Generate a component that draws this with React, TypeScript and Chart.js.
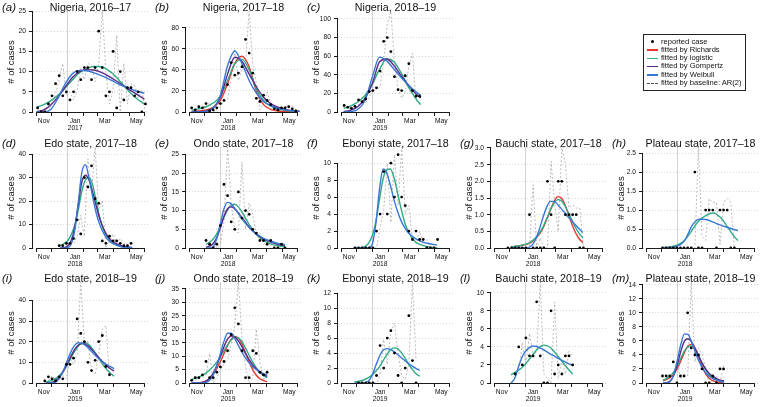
import React, { useEffect, useRef } from 'react';
import { Chart, registerables } from 'chart.js';

Chart.register(...registerables);

const FONT = '"Liberation Sans", Arial, Helvetica, sans-serif';

// x axis: days relative to 1 January of each season
const MONTH_STARTS = [-61, -31, 0, 31, 59, 90, 120, 151];
const MONTH_LABEL_DAYS = [-46, 15, 73, 134];
const MONTH_LABELS = ['Nov', 'Jan', 'Mar', 'May'];
const X_MIN = -67;
const X_MAX = 157;

const C_RICH = '#E5392F';
const C_LOGI = '#2FAA84';
const C_GOMP = '#5B2A86';
const C_WEIB = '#3777D6';
const C_AR = '#A9A9A9';

const LEGEND_LABELS = ['reported case', 'fitted by Richards', 'fitted by logistic', 'fitted by Gompertz', 'fitted by Weibull', 'fitted by baseline: AR(2)'];

// (a) Nigeria 2016-17
const aYTicks = [0, 5, 10, 15, 20, 25];
const aCases = [1, 0, 0, 2, 4, 7, 9, 4, 5, 3, 5, 10, 8, 11, 11, 8, 11, 20, 11, 4, 5, 15, 1, 10, 3, 6, 6, 4, 5, 0, 2];
const aAR = [null, null, 0.5, 0, 2.5, 4.5, 8, 12, 4, 5, 3, 5.5, 11, 8, 12, 11.5, 7.5, 12, 25, 10, 2, 5.5, 19, 0, 12, 2, 7, 6.5, 3.5, 5.5, 0];
const aCurveDays = [-60, -46, -32, -18, -4, 10, 24, 38, 52, 66, 80, 94, 108, 122, 136, 150];
const aLogistic = [1.2, 1.8, 2.8, 4.2, 6, 8, 9.8, 10.8, 11.3, 11.2, 10.3, 8.8, 6.8, 4.8, 3.2, 2.0];
const aGompertz = [0.1, 0.5, 1.8, 3.8, 6.2, 8.6, 10, 10.5, 10.4, 9.8, 8.9, 7.8, 6.6, 5.4, 4.3, 3.2];
const aWeibull = [0, 0, 0.7, 3.5, 7, 9.5, 10.3, 10.2, 9.7, 9, 8.2, 7.3, 6.5, 5.8, 5.1, 4.6];

// (b) Nigeria 2017-18
const bYTicks = [0, 20, 40, 60, 80];
const bCases = [4, 2, 5, 4, 8, 1, 2, 4, 8, 11, 26, 47, 35, 37, 43, 69, 56, 37, 13, 10, 16, 11, 7, 3, 2, 4, 4, 5, 3, 1];
const bAR = [null, null, 3, 5, 4, 9, 0, 2, 5, 10, 12, 32, 60, 30, 40, 48, 96, 45, 27, 2, 8, 19, 8, 5, 1, 1, 5, 4, 6, 2];
const bCurveDays = [-56, -42, -28, -14, 0, 14, 28, 42, 56, 70, 84, 98, 112, 126, 140, 154];
const bRichards = [0.5, 1, 2, 4.5, 11, 27, 46, 53, 43, 20, 7, 2.5, 1, 0.5, 0.2, 0];
const bLogistic = [2, 3, 5, 8.5, 15, 30, 46, 50, 40, 22, 11, 5.5, 3, 1.5, 0.8, 0.4];
const bGompertz = [0, 0.2, 1, 4, 14, 36, 52, 48, 36, 24, 14, 8, 4.5, 2.5, 1.3, 0.7];
const bWeibull = [0, 0, 0.5, 3.5, 16, 44, 58, 46, 30, 18, 10, 6, 3.5, 2, 1.2, 0.7];

// (c) Nigeria 2018-19
const cYTicks = [0, 20, 40, 60, 80, 100];
const cCases = [7, 5, 4, 6, 13, 11, 14, 22, 23, 26, 44, 76, 80, 65, 38, 24, 23, 39, 52, 23, 17, 17];
const cAR = [null, null, 5, 4, 7, 16, 10, 16, 27, 24, 27, 55, 95, 108, 55, 25, 15, 22, 50, 63, 12, 10];
const cCurveDays = [-56, -42, -28, -14, 0, 14, 28, 42, 56, 70, 84, 94];
const cLogistic = [4, 6.5, 11, 18, 30, 46, 57, 54, 42, 27, 15, 8];
const cGompertz = [0.5, 2, 6, 15, 31, 54, 57, 50, 39, 29, 20, 15];
const cWeibull = [0, 0.5, 3, 13, 38, 59, 55, 46, 37, 29, 22, 18];

// (d) Edo state 2017-18
const dYTicks = [0, 10, 20, 30, 40];
const dCases = [1, 1, 2, 2, 4, 12, 6, 30, 26, 35, 21, 19, 3, 2, 5, 3, 3, 2, 1, 1, 2];
const dAR = [null, null, 1.5, 2.5, 2, 5, 14, 5, 38, 24, 43, 16, 20, 0, 3, 6, 2, 4, 2, 1, 1];
const dCurveDays = [-14, -7, 0, 7, 14, 21, 28, 35, 42, 49, 56, 63, 70, 77, 84, 98, 112, 126];
const dLogistic = [1, 1.8, 3, 5.5, 9.5, 16, 24, 29, 30, 27, 20, 13, 8, 4.8, 2.8, 1, 0.3, 0.1];
const dGompertz = [0, 0.1, 0.8, 3, 8.5, 18, 28, 31, 29, 24, 18, 12.5, 8.5, 5.5, 3.5, 1.5, 0.6, 0.2];
const dWeibull = [0, 0, 0.2, 1.5, 7, 19, 32, 35.5, 30, 22, 15, 10, 6.5, 4, 2.5, 1, 0.3, 0.1];

// (e) Ondo state 2017-18
const eYTicks = [0, 5, 10, 15, 20, 25];
const eCases = [2, 1, 0, 1, 6, 17, 14, 7, 5, 15, 8, 10, 9, 5, 4, 2, 2, 1, 2, 0, 0, 1, 0];
const eAR = [null, 2, 1, 0, 1, 7, 27, 12, 5, 4, 23, 5, 12, 9, 4, 4, 1, 2, 0.5, 2, 0, 0, 1];
const eCurveDays = [-28, -21, -14, -7, 0, 7, 14, 21, 28, 35, 42, 56, 70, 84, 98, 112, 126];
const eLogistic = [1, 1.5, 2.4, 3.8, 5.8, 8.2, 10.2, 11.5, 11.7, 11, 9.6, 6.3, 3.6, 2, 1.1, 0.6, 0.3];
const eGompertz = [0.2, 0.5, 1.2, 2.8, 5.5, 8.5, 10.5, 11, 10.5, 9.4, 8.1, 5.6, 3.7, 2.4, 1.6, 1, 0.7];
const eWeibull = [0, 0, 0.3, 2.5, 6.5, 10.5, 12.2, 11.8, 10.6, 9.2, 7.8, 5.5, 3.8, 2.6, 1.8, 1.2, 0.9];

// (f) Ebonyi state 2017-18
const fYTicks = [0, 2, 4, 6, 8, 10];
const fCases = [0, 0, 0, 0, 0, 0, 2, 4, 9, 4, 10, 6, 11, 6, 5, 2, 1, 2, 1, 1, 0, 0, 0, 1];
const fAR = [null, 0, 0, 0, 0, 0, 0, 2.5, 4.5, 10, 3, 11, 5, 11.9, 4, 5, 1, 0.5, 2, 0.5, 1, 0, 0, 0];
const fCurveDays = [-35, -21, -14, -7, 0, 7, 14, 21, 28, 35, 42, 49, 56, 63, 70, 84, 98, 112, 126];
const fLogistic = [0, 0.05, 0.2, 0.6, 1.5, 3.2, 5.8, 8.2, 9.2, 9.3, 8.3, 6.5, 4.6, 3, 1.9, 0.7, 0.3, 0.1, 0.05];
const fWeibull = [0, 0, 0, 0.05, 0.5, 3, 7, 9.3, 8.8, 7.4, 5.7, 4.3, 3.2, 2.4, 1.8, 1.1, 0.7, 0.5, 0.35];

// (g) Bauchi state 2017-18
const gYTicks = [0, 0.5, 1, 1.5, 2, 2.5, 3];
const gCases = [0, 0, 0, 0, 0, 0, 1, 0, 0, 0, 0, 2, 1, 0, 2, 2, 1, 1, 1, 1, 0, 0];
const gAR = [null, 0, 0, 0, 0, 0, 0, 1.9, 0, 0.3, 0, 0, 2.6, 1.3, 0.5, 3.0, 2.5, 1.2, 1.3, 1.2, 1.2, 0];
const gCurveDays = [-28, -14, 0, 7, 14, 21, 28, 35, 42, 49, 56, 63, 70, 77, 84, 91, 98, 105, 112];
const gRichards = [0.03, 0.06, 0.1, 0.14, 0.2, 0.3, 0.43, 0.62, 0.88, 1.15, 1.4, 1.54, 1.5, 1.3, 1.0, 0.7, 0.45, 0.27, 0.16];
const gLogistic = [0.03, 0.06, 0.11, 0.15, 0.22, 0.32, 0.46, 0.65, 0.9, 1.15, 1.35, 1.45, 1.42, 1.27, 1.05, 0.82, 0.6, 0.43, 0.3];
const gWeibull = [0, 0, 0, 0.02, 0.1, 0.3, 0.6, 0.95, 1.25, 1.4, 1.4, 1.3, 1.18, 1.05, 0.92, 0.8, 0.68, 0.57, 0.47];

// (h) Plateau state 2017-18
const hYTicks = [0, 0.5, 1, 1.5, 2, 2.5];
const hCases = [0, 0, 0, 0, 0, 0, 0, 0, 0, 2, 0, 0, 1, 1, 1, 0, 1, 1, 1, 0, 0];
const hAR = [null, 0, 0, 0, 0, 0, 0, 0, 0, 0, 2.66, 0.3, 0.2, 1.3, 1.2, 1.2, 0.1, 1.2, 1.3, 1.2, 0];
const hCurveDays = [-28, -14, 0, 7, 14, 21, 28, 35, 42, 56, 70, 84, 98, 112, 118];
const hLogistic = [0.01, 0.03, 0.08, 0.13, 0.2, 0.32, 0.46, 0.6, 0.72, 0.86, 0.92, 0.8, 0.55, 0.28, 0.2];
const hWeibull = [0, 0.01, 0.05, 0.1, 0.2, 0.38, 0.58, 0.7, 0.76, 0.75, 0.68, 0.6, 0.54, 0.48, 0.46];

// (i) Edo state 2018-19
const iYTicks = [0, 10, 20, 30, 40];
const iCases = [1, 3, 2, 1, 3, 2, 9, 9, 12, 31, 24, 20, 10, 6, 11, 20, 23, 8, 4];
const iAR = [null, 1, 3.5, 1.5, 1.5, 3.5, 2, 12, 9, 14, 48.9, 20, 20, 6, 4, 14, 26, 28, 4];
const iCurveDays = [-42, -35, -28, -21, -14, -7, 0, 7, 14, 21, 28, 35, 42, 49, 56, 63, 70, 77, 84, 91];
const iLogistic = [0.5, 0.9, 1.5, 2.5, 4, 6.2, 9, 12.2, 15.3, 17.8, 19.2, 19.5, 18.5, 16.5, 14, 11.2, 8.6, 6.4, 4.6, 3.3];
const iGompertz = [0, 0.1, 0.5, 1.5, 3.3, 6, 9.5, 13, 16.2, 18.3, 19.1, 18.8, 17.6, 15.8, 13.8, 11.8, 9.9, 8.3, 6.9, 5.8];
const iWeibull = [0, 0, 0.1, 0.8, 3, 6.5, 11, 15.2, 18.2, 19.5, 19.3, 18.2, 16.6, 14.8, 13, 11.4, 10, 8.8, 7.9, 7];

// (j) Ondo state 2018-19
const jYTicks = [0, 5, 10, 15, 20, 25, 30, 35];
const jCases = [1, 2, 2, 3, 8, 2, 2, 4, 6, 8, 12, 18, 28, 22, 12, 2, 2, 12, 11, 4, 3, 4];
const jAR = [null, 1, 2, 2, 3, 11, 0, 2, 5, 7, 9, 14, 21, 37.6, 17, 6, 0, 2, 20, 8, 1, 3];
const jCurveDays = [-56, -49, -42, -35, -28, -21, -14, -7, 0, 7, 14, 21, 28, 35, 42, 49, 56, 63, 70, 77, 84, 91];
const jRichards = [0, 0, 0.1, 0.3, 0.8, 1.7, 3.2, 5.3, 8, 11, 14, 16.3, 17.3, 16.7, 14.5, 11.2, 7.8, 4.9, 2.9, 1.6, 0.9, 0.5];
const jLogistic = [1.3, 1.7, 2.2, 2.9, 3.7, 4.8, 6.2, 7.8, 9.8, 12, 14.2, 16, 17, 16.8, 15.4, 13, 10.3, 7.8, 5.6, 4, 2.8, 2];
const jGompertz = [0, 0, 0.05, 0.2, 0.7, 1.8, 3.7, 6.5, 10, 13.5, 16.3, 17.5, 17.2, 15.7, 13.5, 11, 8.7, 6.7, 5.2, 4, 3.1, 2.4];
const jWeibull = [0, 0, 0, 0, 0.2, 1, 3, 6.5, 11, 15.5, 18.5, 18.5, 16.5, 14, 11.5, 9.3, 7.5, 6, 5, 4.1, 3.5, 3];

// (k) Ebonyi state 2018-19
const kYTicks = [0, 2, 4, 6, 8, 10, 12];
const kCases = [0, 0, 0, 0, 0, 1, 5, 2, 6, 7, 4, 1, 0, 2, 9, 3, 0];
const kAR = [null, 0, 0, 0, 0, 0, 1.2, 5.8, 2.5, 7, 8, 4, 1, 0.5, 2.5, 13.5, 3];
const kCurveDays = [-35, -28, -21, -14, -7, 0, 7, 14, 21, 28, 35, 42, 49, 56, 63, 70, 77, 84, 92];
const kLogistic = [0.15, 0.22, 0.33, 0.5, 0.75, 1.1, 1.6, 2.2, 3, 3.8, 4.4, 4.7, 4.6, 4.1, 3.4, 2.6, 1.9, 1.3, 0.9];
const kWeibull = [0, 0, 0, 0.05, 0.3, 1.1, 2.4, 3.6, 4.4, 4.6, 4.5, 4.2, 3.8, 3.4, 3, 2.6, 2.3, 2, 1.7];

// (l) Bauchi state 2018-19
const lYTicks = [0, 2, 4, 6, 8, 10];
const lCases = [1, 4, 2, 5, 3, 3, 9, 3, 0, 0, 8, 1, 2, 1, 3, 3, 2];
const lAR = [null, 1, 4.5, 2, 5.5, 3, 3.5, 11.2, 1, 0.5, 0, 9, 0.5, 2.5, 1, 3.5, 3];
const lCurveDays = [-28, -21, -14, -7, 0, 7, 14, 21, 28, 35, 42, 49, 56, 63, 70, 77, 84, 92];
const lLogistic = [0.9, 1.15, 1.4, 1.7, 2.1, 2.6, 3.1, 3.6, 4, 4.2, 4.15, 3.9, 3.5, 3, 2.5, 2, 1.5, 1];
const lWeibull = [0, 0.5, 1.7, 2.8, 3.5, 3.9, 4.1, 4.05, 3.9, 3.7, 3.45, 3.2, 3, 2.75, 2.55, 2.35, 2.15, 1.95];

// (m) Plateau state 2018-19
const mYTicks = [0, 2, 4, 6, 8, 10, 12, 14];
const mCases = [1, 1, 1, 3, 0, 1, 1, 10, 5, 4, 4, 2, 0, 0, 1, 0, 2, 2];
const mAR = [null, 1, 1, 1, 3, 0.5, 1, 1, 14.4, 3, 5, 4, 2, 0, 0.3, 1, 0, 2.5];
const mCurveDays = [-28, -21, -14, -7, 0, 7, 14, 21, 28, 35, 42, 49, 56, 63, 70, 77, 84, 91];
const mRichards = [0.3, 0.5, 0.8, 1.3, 2.1, 3.2, 4.4, 5.3, 5.5, 4.9, 3.6, 2.2, 1.2, 0.6, 0.3, 0.15, 0.07, 0.03];
const mLogistic = [0.4, 0.65, 1, 1.6, 2.5, 3.6, 4.6, 5.2, 5.3, 4.8, 3.8, 2.7, 1.8, 1.1, 0.7, 0.4, 0.25, 0.15];
const mGompertz = [0, 0.05, 0.3, 1.1, 2.7, 4.6, 6, 6.3, 5.8, 4.8, 3.7, 2.7, 1.9, 1.3, 0.9, 0.6, 0.4, 0.3];
const mWeibull = [0, 0, 0.2, 1.2, 3.3, 5.6, 7, 6.9, 5.8, 4.4, 3.1, 2.1, 1.4, 0.9, 0.6, 0.4, 0.25, 0.15];

type Arr = (number | null)[];
type PanelSpec = {
  tag: string; title: string; year: string; col: number; row: number;
  yMax: number; yTicks: number[]; start: number; cases: number[]; ar: Arr;
  curveDays: number[]; richards: number[] | null; logistic: number[] | null; gompertz: number[] | null; weibull: number[] | null;
};

const PANELS: PanelSpec[] = [
  { tag: 'a', title: 'Nigeria, 2016–17', year: '2017', col: 0, row: 0, yMax: 25, yTicks: aYTicks, start: -58, cases: aCases, ar: aAR, curveDays: aCurveDays, richards: null, logistic: aLogistic, gompertz: aGompertz, weibull: aWeibull },
  { tag: 'b', title: 'Nigeria, 2017–18', year: '2018', col: 1, row: 0, yMax: 96, yTicks: bYTicks, start: -56, cases: bCases, ar: bAR, curveDays: bCurveDays, richards: bRichards, logistic: bLogistic, gompertz: bGompertz, weibull: bWeibull },
  { tag: 'c', title: 'Nigeria, 2018–19', year: '2019', col: 2, row: 0, yMax: 108.6, yTicks: cYTicks, start: -55, cases: cCases, ar: cAR, curveDays: cCurveDays, richards: null, logistic: cLogistic, gompertz: cGompertz, weibull: cWeibull },
  { tag: 'd', title: 'Edo state, 2017–18', year: '2018', col: 0, row: 1, yMax: 43, yTicks: dYTicks, start: -16, cases: dCases, ar: dAR, curveDays: dCurveDays, richards: null, logistic: dLogistic, gompertz: dGompertz, weibull: dWeibull },
  { tag: 'e', title: 'Ondo state, 2017–18', year: '2018', col: 1, row: 1, yMax: 27, yTicks: eYTicks, start: -28, cases: eCases, ar: eAR, curveDays: eCurveDays, richards: null, logistic: eLogistic, gompertz: eGompertz, weibull: eWeibull },
  { tag: 'f', title: 'Ebonyi state, 2017–18', year: '2018', col: 2, row: 1, yMax: 11.9, yTicks: fYTicks, start: -34, cases: fCases, ar: fAR, curveDays: fCurveDays, richards: null, logistic: fLogistic, gompertz: null, weibull: fWeibull },
  { tag: 'g', title: 'Bauchi state, 2017–18', year: '2018', col: 3, row: 1, yMax: 3.03, yTicks: gYTicks, start: -34, cases: gCases, ar: gAR, curveDays: gCurveDays, richards: gRichards, logistic: gLogistic, gompertz: null, weibull: gWeibull },
  { tag: 'h', title: 'Plateau state, 2017–18', year: '2018', col: 4, row: 1, yMax: 2.66, yTicks: hYTicks, start: -29, cases: hCases, ar: hAR, curveDays: hCurveDays, richards: null, logistic: hLogistic, gompertz: null, weibull: hWeibull },
  { tag: 'i', title: 'Edo state, 2018–19', year: '2019', col: 0, row: 2, yMax: 48.9, yTicks: iYTicks, start: -44, cases: iCases, ar: iAR, curveDays: iCurveDays, richards: null, logistic: iLogistic, gompertz: iGompertz, weibull: iWeibull },
  { tag: 'j', title: 'Ondo state, 2018–19', year: '2019', col: 1, row: 2, yMax: 37.6, yTicks: jYTicks, start: -56, cases: jCases, ar: jAR, curveDays: jCurveDays, richards: jRichards, logistic: jLogistic, gompertz: jGompertz, weibull: jWeibull },
  { tag: 'k', title: 'Ebonyi state, 2018–19', year: '2019', col: 2, row: 2, yMax: 13.5, yTicks: kYTicks, start: -27, cases: kCases, ar: kAR, curveDays: kCurveDays, richards: null, logistic: kLogistic, gompertz: null, weibull: kWeibull },
  { tag: 'l', title: 'Bauchi state, 2018–19', year: '2019', col: 3, row: 2, yMax: 11.2, yTicks: lYTicks, start: -20, cases: lCases, ar: lAR, curveDays: lCurveDays, richards: null, logistic: lLogistic, gompertz: null, weibull: lWeibull },
  { tag: 'm', title: 'Plateau state, 2018–19', year: '2019', col: 4, row: 2, yMax: 14.4, yTicks: mYTicks, start: -29, cases: mCases, ar: mAR, curveDays: mCurveDays, richards: mRichards, logistic: mLogistic, gompertz: mGompertz, weibull: mWeibull },
];

const COL_W = 152.6;
const ROW_H = 135.7;
const CW = 153;
const CH = 136;
const AREA_LEFT = 33;
const AREA_RIGHT = 148;
const AREA_TOP = 11;
const AREA_BOTTOM = 112;

const rAxesPlugin = {
  id: 'rAxes',
  beforeDatasetsDraw(chart: any) {
    const { ctx, chartArea: a, scales } = chart;
    const x = scales.x;
    const y = scales.y;
    ctx.save();
    const jx = Math.round(x.getPixelForValue(0)) + 0.5;
    ctx.strokeStyle = '#d2d2d2';
    ctx.lineWidth = 1;
    ctx.beginPath();
    ctx.moveTo(jx, a.top);
    ctx.lineTo(jx, a.bottom);
    ctx.stroke();
    const vals = y.ticks.map((t: any) => t.value);
    const lx = Math.round(a.left) - 0.5;
    const by = Math.round(a.bottom) + 0.5;
    ctx.strokeStyle = '#1a1a1a';
    ctx.lineWidth = 1;
    ctx.beginPath();
    ctx.moveTo(lx, y.getPixelForValue(Math.min(...vals)));
    ctx.lineTo(lx, y.getPixelForValue(Math.max(...vals)));
    ctx.moveTo(x.getPixelForValue(MONTH_STARTS[0]), by);
    ctx.lineTo(x.getPixelForValue(MONTH_STARTS[MONTH_STARTS.length - 1]), by);
    ctx.stroke();
    ctx.restore();
  },
};

function PanelChart({ p }: { p: PanelSpec }) {
  const ref = useRef<HTMLCanvasElement | null>(null);
  useEffect(() => {
    const canvas = ref.current;
    if (!canvas) return;
    const weekly = (vals: Arr) =>
      vals.map((v, i) => ({ x: p.start + 7 * i, y: v })).filter((d) => d.y !== null);
    const curve = (vals: number[]) => vals.map((v, i) => ({ x: p.curveDays[i], y: v }));
    const datasets: any[] = [
      {
        label: 'reported case', data: weekly(p.cases), showLine: false,
        pointRadius: 1.4, pointHoverRadius: 1.4, pointBackgroundColor: '#000', pointBorderWidth: 0,
        borderColor: '#000', order: 0,
      },
      {
        label: 'fitted by baseline: AR(2)', data: weekly(p.ar), borderColor: C_AR, borderWidth: 0.8,
        borderDash: [2, 2], pointRadius: 0, tension: 0, fill: false, order: 9,
      },
    ];
    const fits: [string, number[] | null, string, number][] = [
      ['fitted by Richards', p.richards, C_RICH, 4],
      ['fitted by logistic', p.logistic, C_LOGI, 3],
      ['fitted by Gompertz', p.gompertz, C_GOMP, 2],
      ['fitted by Weibull', p.weibull, C_WEIB, 1],
    ];
    fits.forEach(([label, vals, color, order]) => {
      if (!vals) return;
      datasets.push({
        label, data: curve(vals), borderColor: color, borderWidth: 1.4, pointRadius: 0,
        cubicInterpolationMode: 'monotone', fill: false, order,
      });
    });
    const decimals = p.yTicks.every((v) => Number.isInteger(v)) ? 0 : 1;
    const tickFont = { family: FONT, size: 6.7, lineHeight: 1.0 };
    const allX = [...MONTH_STARTS, ...MONTH_LABEL_DAYS].sort((u, v) => u - v);
    const chart = new Chart(canvas, {
      type: 'line',
      data: { datasets },
      options: {
        animation: false,
        responsive: false,
        maintainAspectRatio: false,
        events: [],
        layout: { padding: { top: AREA_TOP, right: CW - AREA_RIGHT, left: 0, bottom: 0 } },
        plugins: { legend: { display: false }, tooltip: { enabled: false }, title: { display: false } },
        scales: {
          x: {
            type: 'linear', min: X_MIN, max: X_MAX,
            afterBuildTicks: (s: any) => { s.ticks = allX.map((v) => ({ value: v })); },
            afterFit: (s: any) => { s.height = CH - AREA_BOTTOM; },
            border: { display: false },
            grid: {
              drawOnChartArea: false, drawTicks: true, tickLength: 4, tickWidth: 1,
              tickColor: (ctx: any) => (ctx.tick && MONTH_STARTS.includes(ctx.tick.value) ? '#1a1a1a' : 'rgba(0,0,0,0)'),
            },
            ticks: {
              autoSkip: false, maxRotation: 0, minRotation: 0, padding: 2, color: '#111', font: tickFont,
              callback: (v: any) => {
                const k = MONTH_LABEL_DAYS.indexOf(Number(v));
                if (k < 0) return '';
                return MONTH_LABELS[k] === 'Jan' ? ['Jan', p.year] : MONTH_LABELS[k];
              },
            },
          },
          y: {
            type: 'linear', min: 0, max: p.yMax,
            afterBuildTicks: (s: any) => { s.ticks = p.yTicks.map((v) => ({ value: v })); },
            afterFit: (s: any) => { s.width = AREA_LEFT; },
            border: { display: false, dash: [1, 2] },
            grid: {
              color: '#c4c4c4', lineWidth: 0.7, drawTicks: true, tickLength: 4, tickWidth: 1,
              tickColor: '#1a1a1a', tickBorderDash: [],
            },
            ticks: {
              padding: 3, color: '#111', font: tickFont,
              callback: (v: any) => Number(v).toFixed(decimals),
            },
          },
        },
      } as any,
      plugins: [rAxesPlugin],
    });
    return () => chart.destroy();
  }, [p]);
  const left = Math.round(p.col * COL_W);
  const top = Math.round(p.row * ROW_H);
  return (
    <>
      <canvas ref={ref} width={CW} height={CH}
        style={{ position: 'absolute', left, top, width: CW, height: CH }} />
      <div style={{ position: 'absolute', left: left + 2, top: top + 1, fontFamily: FONT, fontStyle: 'italic', fontSize: 11.5, lineHeight: '12px', color: '#111', whiteSpace: 'nowrap' }}>
        ({p.tag})
      </div>
      <div style={{ position: 'absolute', left: left + (AREA_LEFT + AREA_RIGHT) / 2, top: top + 6.5, transform: 'translate(-50%, -50%)', fontFamily: FONT, fontSize: 10.7, lineHeight: '12px', color: '#111', whiteSpace: 'nowrap' }}>
        {p.title}
      </div>
      <div style={{ position: 'absolute', left: left + 9.5, top: top + (AREA_TOP + AREA_BOTTOM) / 2, transform: 'translate(-50%, -50%) rotate(-90deg)', fontFamily: FONT, fontSize: 9.5, lineHeight: '11px', color: '#111', whiteSpace: 'nowrap' }}>
        # of cases
      </div>
    </>
  );
}

function Legend() {
  const colors = ['', C_RICH, C_LOGI, C_GOMP, C_WEIB, ''];
  return (
    <div style={{ position: 'absolute', left: 643, top: 34, width: 103, height: 57, border: '1px solid #222', boxSizing: 'border-box', background: '#fff', fontFamily: FONT, fontSize: 7.6, color: '#111' }}>
      {LEGEND_LABELS.map((lab, i) => (
        <div key={lab} style={{ position: 'absolute', left: 0, top: 2.5 + i * 8.3, height: 8.3, width: '100%' }}>
          {i === 0 && (
            <div style={{ position: 'absolute', left: 6.5, top: 2.8, width: 3, height: 3, borderRadius: '50%', background: '#000' }} />
          )}
          {i > 0 && i < 5 && (
            <div style={{ position: 'absolute', left: 2.5, top: 3.5, width: 11, height: 1.5, background: colors[i] }} />
          )}
          {i === 5 && (
            <div style={{ position: 'absolute', left: 2.5, top: 4, width: 11, height: 0, borderTop: '1px dashed #555' }} />
          )}
          <div style={{ position: 'absolute', left: 17, top: 0, lineHeight: '8.3px', whiteSpace: 'nowrap' }}>{lab}</div>
        </div>
      ))}
    </div>
  );
}

export default function App() {
  return (
    <div style={{ position: 'fixed', left: 0, top: 0, width: 763, height: 407, background: '#fff', overflow: 'hidden' }}>
      {PANELS.map((p) => (
        <PanelChart key={p.tag} p={p} />
      ))}
      <Legend />
    </div>
  );
}
